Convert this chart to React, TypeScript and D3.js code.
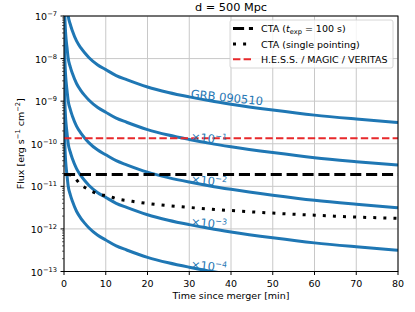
import { useEffect, useRef } from "react";
import * as d3 from "d3";

// time since merger [min]
const times = [
  0.05, 0.1, 0.2, 0.35, 0.5, 0.75, 1, 1.5, 2, 3, 4, 5, 6, 8, 10, 12.5, 15, 20,
  25, 30, 35, 40, 50, 60, 70, 80,
];
// GRB 090510 flux at d = 500 Mpc [erg s^-1 cm^-2]
const grbFlux = [
  6.3e-6, 2.5e-6, 1.0e-6, 4.6e-7, 2.9e-7, 1.7e-7, 1.02e-7, 6.4e-8, 4.5e-8,
  2.6e-8, 1.8e-8, 1.35e-8, 1.05e-8, 7.2e-9, 5.5e-9, 4.0e-9, 3.2e-9, 2.15e-9,
  1.6e-9, 1.26e-9, 1.02e-9, 8.5e-10, 6.2e-10, 4.7e-10, 3.8e-10, 3.15e-10,
];
const grbScales = [1, 1e-1, 1e-2, 1e-3, 1e-4];
const scaleExponents = ["", "−1", "−2", "−3", "−4"];

// CTA single pointing sensitivity
const ctaSingleTimes = [1, 2.2, 3.8, 6, 8.2, 10.6, 13, 15.4, 18, 30, 40, 50, 60, 70, 80];
const ctaSingleFlux = [
  1.9e-11, 1.74e-11, 1.15e-11, 8.3e-12, 6.6e-12, 5.9e-12, 5.0e-12, 4.6e-12,
  4.2e-12, 3.2e-12, 2.7e-12, 2.35e-12, 2.1e-12, 1.9e-12, 1.78e-12,
];
const ctaDeepFlux = 1.9e-11; // CTA, t_exp = 100 s
const iactFlux = 1.35e-10; // H.E.S.S. / MAGIC / VERITAS

const xTicks = [0, 10, 20, 30, 40, 50, 60, 70, 80];
const yExponents = [-13, -12, -11, -10, -9, -8, -7];

const BLUE = "#1f77b4";
const RED = "#e8282b";
const FONT = "DejaVu Sans, sans-serif";
const FS = "9.5px";

export default function App() {
  const ref = useRef<SVGSVGElement>(null);

  useEffect(() => {
    if (!ref.current) return;
    const width = 415;
    const height = 312;
    const left = 64;
    const right = 398;
    const top = 16;
    const bottom = 271.5;

    const svg = d3.select(ref.current);
    svg.selectAll("*").remove();
    svg.attr("width", width).attr("height", height).style("font-family", FONT);

    const x = d3.scaleLinear().domain([0, 80]).range([left, right]);
    const y = d3.scaleLog().domain([1e-13, 1e-7]).range([bottom, top]);

    svg
      .append("defs")
      .append("clipPath")
      .attr("id", "plot-clip")
      .append("rect")
      .attr("x", left)
      .attr("y", top)
      .attr("width", right - left)
      .attr("height", bottom - top);

    // grid
    const grid = svg.append("g").attr("stroke", "#c8c8c8").attr("stroke-width", 1);
    xTicks.forEach((t) => {
      grid.append("line").attr("x1", x(t)).attr("x2", x(t)).attr("y1", top).attr("y2", bottom);
    });
    yExponents.forEach((e) => {
      grid
        .append("line")
        .attr("x1", left)
        .attr("x2", right)
        .attr("y1", y(Math.pow(10, e)))
        .attr("y2", y(Math.pow(10, e)));
    });

    const plot = svg.append("g").attr("clip-path", "url(#plot-clip)");

    const line = d3
      .line<[number, number]>()
      .x((d) => x(d[0]))
      .y((d) => y(d[1]))
      .curve(d3.curveMonotoneX);

    // GRB curves
    grbScales.forEach((s) => {
      const pts: [number, number][] = times.map((t, i) => [t, grbFlux[i] * s]);
      plot
        .append("path")
        .attr("d", line(pts))
        .attr("fill", "none")
        .attr("stroke", BLUE)
        .attr("stroke-width", 3);
    });

    // IACT sensitivity
    plot
      .append("line")
      .attr("x1", x(0))
      .attr("x2", x(80))
      .attr("y1", y(iactFlux))
      .attr("y2", y(iactFlux))
      .attr("stroke", RED)
      .attr("stroke-width", 2)
      .attr("stroke-dasharray", "7.4,3.2");

    // CTA 100 s
    plot
      .append("line")
      .attr("x1", x(0))
      .attr("x2", x(80))
      .attr("y1", y(ctaDeepFlux))
      .attr("y2", y(ctaDeepFlux))
      .attr("stroke", "#000")
      .attr("stroke-width", 3)
      .attr("stroke-dasharray", "11.1,4.8");

    // CTA single pointing
    const singlePts: [number, number][] = ctaSingleTimes.map((t, i) => [t, ctaSingleFlux[i]]);
    plot
      .append("path")
      .attr("d", line(singlePts))
      .attr("fill", "none")
      .attr("stroke", "#000")
      .attr("stroke-width", 3)
      .attr("stroke-dasharray", "3,7.1");

    // curve labels
    grbScales.forEach((s, i) => {
      const lx = x(30.3);
      const ly = y(1.2e-9 * s);
      const txt = svg
        .append("text")
        .attr("transform", `translate(${lx},${ly}) rotate(6)`)
        .attr("fill", BLUE)
        .style("font-size", "11.5px");
      if (i === 0) {
        txt.text("GRB 090510");
      } else {
        txt.append("tspan").text("×10");
        txt
          .append("tspan")
          .attr("dy", -4.5)
          .style("font-size", "8px")
          .text(scaleExponents[i]);
      }
    });

    // frame
    svg
      .append("rect")
      .attr("x", left)
      .attr("y", top)
      .attr("width", right - left)
      .attr("height", bottom - top)
      .attr("fill", "none")
      .attr("stroke", "#000")
      .attr("stroke-width", 1);

    // x ticks
    const xAxis = svg.append("g");
    xTicks.forEach((t) => {
      xAxis
        .append("line")
        .attr("x1", x(t))
        .attr("x2", x(t))
        .attr("y1", bottom)
        .attr("y2", bottom + 3.5)
        .attr("stroke", "#000");
      xAxis
        .append("text")
        .attr("x", x(t))
        .attr("y", bottom + 15)
        .attr("text-anchor", "middle")
        .style("font-size", FS)
        .text(t);
    });
    svg
      .append("text")
      .attr("x", (left + right) / 2)
      .attr("y", 299)
      .attr("text-anchor", "middle")
      .style("font-size", FS)
      .text("Time since merger [min]");

    // y ticks
    const yAxis = svg.append("g");
    yExponents.forEach((e, k) => {
      const py = y(Math.pow(10, e));
      yAxis
        .append("line")
        .attr("x1", left - 3.5)
        .attr("x2", left)
        .attr("y1", py)
        .attr("y2", py)
        .attr("stroke", "#000");
      const lab = yAxis
        .append("text")
        .attr("x", left - 7)
        .attr("y", py + 4)
        .attr("text-anchor", "end")
        .style("font-size", FS);
      lab.append("tspan").text("10");
      lab.append("tspan").attr("dy", -4).style("font-size", "6.7px").text(`−${-e}`);
      if (k < yExponents.length - 1) {
        for (let m = 2; m <= 9; m++) {
          const my = y(m * Math.pow(10, e));
          yAxis
            .append("line")
            .attr("x1", left - 2)
            .attr("x2", left)
            .attr("y1", my)
            .attr("y2", my)
            .attr("stroke", "#000")
            .attr("stroke-width", 0.6);
        }
      }
    });
    const yl = svg
      .append("text")
      .attr("transform", `translate(23.5,${(top + bottom) / 2}) rotate(-90)`)
      .attr("text-anchor", "middle")
      .style("font-size", FS);
    yl.append("tspan").text("Flux [erg s");
    yl.append("tspan").attr("dy", -4).style("font-size", "6.7px").text("−1");
    yl.append("tspan").attr("dy", 4).text(" cm");
    yl.append("tspan").attr("dy", -4).style("font-size", "6.7px").text("−2");
    yl.append("tspan").attr("dy", 4).text("]");

    // title
    svg
      .append("text")
      .attr("x", (left + right) / 2)
      .attr("y", 11)
      .attr("text-anchor", "middle")
      .style("font-size", "11.3px")
      .text("d = 500 Mpc");

    // legend
    const lg = svg.append("g");
    lg.append("rect")
      .attr("x", 230)
      .attr("y", 20)
      .attr("width", 163)
      .attr("height", 48)
      .attr("rx", 2)
      .attr("fill", "#fff")
      .attr("fill-opacity", 0.8)
      .attr("stroke", "#cccccc")
      .attr("stroke-width", 0.8);
    const rows = [
      { y: 28.5, color: "#000", w: 3, dash: "11.1,4.8" },
      { y: 44, color: "#000", w: 3, dash: "3,7.1" },
      { y: 59.3, color: RED, w: 2, dash: "7.4,3.2" },
    ];
    rows.forEach((r) => {
      lg.append("line")
        .attr("x1", 233)
        .attr("x2", 253)
        .attr("y1", r.y)
        .attr("y2", r.y)
        .attr("stroke", r.color)
        .attr("stroke-width", r.w)
        .attr("stroke-dasharray", r.dash);
    });
    const t1 = lg.append("text").attr("x", 261).attr("y", rows[0].y + 3.5).style("font-size", FS);
    t1.append("tspan").text("CTA (");
    t1.append("tspan").style("font-style", "italic").text("t");
    t1.append("tspan").attr("dy", 2).style("font-size", "6.7px").text("exp");
    t1.append("tspan").attr("dy", -2).text(" = 100 s)");
    lg.append("text")
      .attr("x", 261)
      .attr("y", rows[1].y + 3.5)
      .style("font-size", FS)
      .text("CTA (single pointing)");
    lg.append("text")
      .attr("x", 261)
      .attr("y", rows[2].y + 3.5)
      .style("font-size", FS)
      .text("H.E.S.S. / MAGIC / VERITAS");
  }, []);

  return <svg ref={ref} style={{ position: "absolute", left: 0, top: 0 }} />;
}
